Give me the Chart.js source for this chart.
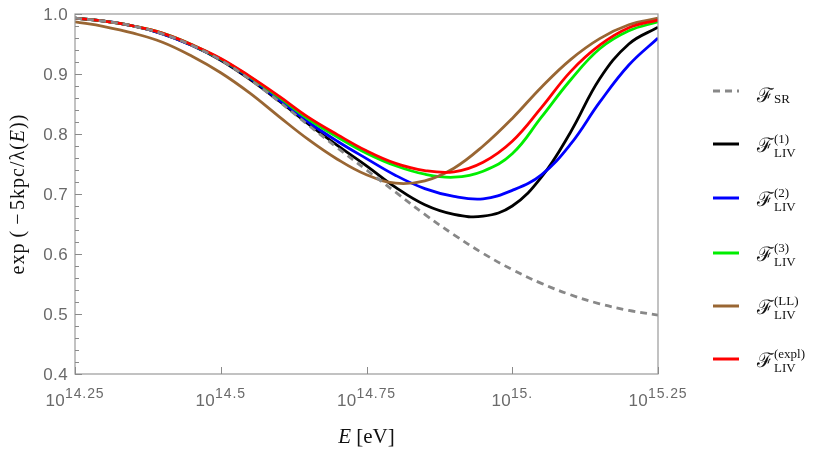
<!DOCTYPE html>
<html><head><meta charset="utf-8">
<script src="https://cdn.jsdelivr.net/npm/chart.js@4/dist/chart.umd.min.js"></script>
<style>html,body{margin:0;padding:0;background:#fff;}#c{display:block;}</style>
</head><body>
<canvas id="c" width="830" height="457"></canvas>
<script>
// log10(E / eV)
const logE = [14.25,14.30,14.35,14.40,14.45,14.50,14.55,14.60,14.65,14.70,14.75,14.80,14.85,14.90,14.95,15.00,15.05,15.10,15.15,15.20,15.25];
const fSR   = [0.993,0.988,0.980,0.967,0.948,0.923,0.891,0.854,0.815,0.777,0.740,0.703,0.666,0.632,0.601,0.574,0.551,0.532,0.517,0.506,0.498];
const fLIV1 = [0.993,0.988,0.980,0.967,0.948,0.923,0.891,0.855,0.817,0.781,0.747,0.711,0.682,0.666,0.663,0.680,0.728,0.803,0.892,0.950,0.978];
const fLIV2 = [0.993,0.988,0.980,0.967,0.948,0.924,0.893,0.857,0.820,0.788,0.759,0.731,0.709,0.696,0.692,0.706,0.732,0.783,0.853,0.915,0.960];
const fLIV3 = [0.993,0.988,0.980,0.968,0.949,0.925,0.895,0.861,0.825,0.795,0.768,0.747,0.733,0.728,0.738,0.767,0.828,0.890,0.942,0.972,0.987];
const fLL   = [0.987,0.979,0.968,0.953,0.930,0.902,0.868,0.829,0.791,0.758,0.732,0.718,0.722,0.743,0.780,0.826,0.878,0.924,0.959,0.982,0.993];
const fExpl = [0.993,0.988,0.980,0.968,0.949,0.926,0.896,0.863,0.828,0.799,0.772,0.751,0.739,0.737,0.753,0.788,0.844,0.904,0.948,0.977,0.990];

const xTicks = [14.25,14.5,14.75,15,15.25];
const xTickExp = ['14.25','14.5','14.75','15.','15.25'];
const yTicks = [0.4,0.5,0.6,0.7,0.8,0.9,1.0];
const yTickLabels = ['0.4','0.5','0.6','0.7','0.8','0.9','1.0'];

const seriesNames = ['SR','LIV1','LIV2','LIV3','LL','expl'];
const legendSub = ['SR','LIV','LIV','LIV','LIV','LIV'];
const legendSup = ['','(1)','(2)','(3)','(LL)','(expl)'];
const seriesData = [fSR,fLIV1,fLIV2,fLIV3,fLL,fExpl];
const colors = ['#888888','#000000','#0000ff','#00ee00','#996633','#ff0000'];
const drawOrder = [0,6,5,4,3,2];

const datasets = seriesData.map((arr,i)=>({
  label: seriesNames[i],
  data: arr.map((v,j)=>({x:logE[j], y:v})),
  borderColor: colors[i],
  borderWidth: 2.8,
  borderDash: i===0 ? [7,5] : [],
  pointRadius: 0,
  fill: false,
  tension: 0.4,
  order: drawOrder[i]
}));

function runsWidth(ctx, runs){let w=0;for(const r of runs){ctx.font=r.font;ctx.letterSpacing=r.ls||'0px';w+=ctx.measureText(r.t).width;}ctx.letterSpacing='0px';return w;}
function drawRuns(ctx, runs, x, y){let cx=x;for(const r of runs){ctx.font=r.font;ctx.letterSpacing=r.ls||'0px';ctx.fillText(r.t,cx,y+(r.dy||0));cx+=ctx.measureText(r.t).width;}ctx.letterSpacing='0px';}

const SANS='"Liberation Sans", Arial, sans-serif';
const SERIF='"Liberation Serif", "Times New Roman", serif';

const framePlugin = {
  id:'frame',
  afterDatasetsDraw(chart){
    const ctx=chart.ctx, a=chart.chartArea, xs=chart.scales.x, ys=chart.scales.y;
    ctx.save();
    ctx.strokeStyle='#9a9a9a'; ctx.lineWidth=1.2;
    ctx.strokeRect(a.left, a.top, a.right-a.left, a.bottom-a.top);
    ctx.strokeStyle='#8a8a8a'; ctx.lineWidth=1;
    for(let k=0;k<=30;k++){
      const v=0.4+k*0.02; const py=Math.round(ys.getPixelForValue(v))+0.5;
      const major=(k%5===0);
      ctx.beginPath(); ctx.moveTo(a.left,py); ctx.lineTo(a.left+(major?7:4),py); ctx.stroke();
    }
    xTicks.forEach(t=>{const px=Math.round(xs.getPixelForValue(t))+0.5;
      ctx.beginPath(); ctx.moveTo(px,a.bottom); ctx.lineTo(px,a.bottom-7); ctx.stroke();});
    // y tick labels
    ctx.fillStyle='#6a6a6a';
    ctx.textAlign='left'; ctx.textBaseline='middle';
    yTicks.forEach((v,i)=>{
      const r=[{t:yTickLabels[i],font:'17px '+SANS,ls:'0.4px'}];
      const w=runsWidth(ctx,r);
      drawRuns(ctx,r,a.left-7-w,ys.getPixelForValue(v)+1);
    });
    // x tick labels 10^exp
    ctx.textBaseline='alphabetic';
    xTicks.forEach((t,i)=>{
      const runs=[{t:'10',font:'17px '+SANS,ls:'0.3px'},
                  {t:xTickExp[i],font:'14px '+SANS,ls:'0.9px',dy:-8}];
      const w=runsWidth(ctx,runs);
      drawRuns(ctx,runs,xs.getPixelForValue(t)-w/2, 406);
    });
    // axis titles
    ctx.fillStyle='#111';
    const xr=[{t:'E',font:'italic 21px '+SERIF},{t:' [eV]',font:'21px '+SERIF}];
    const xw=runsWidth(ctx,xr);
    drawRuns(ctx,xr,(a.left+a.right)/2-xw/2, 443);
    const yr=[{t:'exp\u2009(\u2009\u2212\u200a5kpc/\u03bb(',font:'20px '+SERIF,ls:'1px'},{t:'E',font:'italic 20px '+SERIF,ls:'1px'},{t:'))',font:'20px '+SERIF,ls:'1px'}];
    const yw=runsWidth(ctx,yr);
    ctx.save(); ctx.translate(24,(a.top+a.bottom)/2); ctx.rotate(-Math.PI/2);
    drawRuns(ctx,yr,-yw/2,0); ctx.restore();
    // legend
    const legY=[91,144,198,253,306,359];
    seriesData.forEach((arr,i)=>{
      const y=legY[i];
      ctx.strokeStyle=colors[i]; ctx.lineWidth=3; ctx.setLineDash(i===0?[7,5]:[]);
      ctx.beginPath(); ctx.moveTo(713,y); ctx.lineTo(739,y); ctx.stroke(); ctx.setLineDash([]);
      ctx.fillStyle='#111';
      const base = i===0 ? y+11 : y+8;
      ctx.font='20px "DejaVu Serif", serif';
      ctx.fillText('\u2131',757,base);
      const fw=ctx.measureText('\u2131').width;
      ctx.font='13px '+SERIF;
      ctx.fillText(legendSub[i],757+fw+1, i===0? y+12 : y+13);
      if(legendSup[i]){ctx.fillText(legendSup[i],757+fw+1,y-1);}
    });
    ctx.restore();
  }
};

new Chart(document.getElementById('c'),{
  type:'line',
  data:{datasets},
  options:{
    responsive:false, animation:false, devicePixelRatio:1,
    layout:{padding:{left:75,right:172,top:14,bottom:83}},
    plugins:{legend:{display:false},tooltip:{enabled:false}},
    scales:{
      x:{type:'linear',min:14.25,max:15.25,display:false},
      y:{type:'linear',min:0.4,max:1.0,display:false}
    }
  },
  plugins:[framePlugin]
});
</script>
</body></html>
